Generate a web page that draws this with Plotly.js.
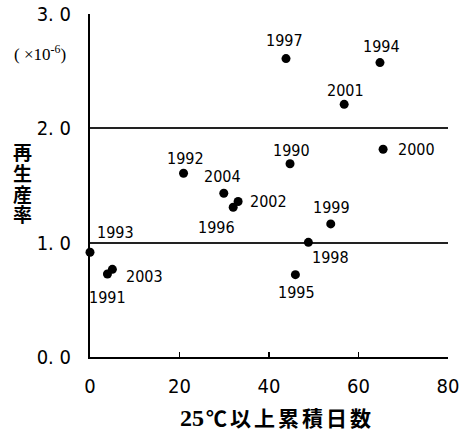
<!DOCTYPE html>
<html>
<head>
<meta charset="utf-8">
<script src="https://cdn.plot.ly/plotly-3.0.1.min.js"></script>
<style>html,body{margin:0;padding:0;background:#fff;}#chart{width:466px;height:433px;}</style>
</head>
<body>
<div id="chart"></div>
<script>
// Data
const years = ['1990','1991','1992','1993','1994','1995','1996','1997','1998','1999','2000','2001','2002','2003','2004'];
const days  = [44.7, 3.9, 20.9, 0.0, 64.8, 45.9, 32.0, 43.8, 48.8, 53.8, 65.5, 56.8, 33.1, 5.0, 29.9];
const rate  = [1.69, 0.726, 1.607, 0.916, 2.575, 0.72, 1.31, 2.61, 1.003, 1.164, 1.817, 2.21, 1.36, 0.767, 1.432];
const yTickVals = [0, 1, 2, 3];
const yTickText = ['0. 0', '1. 0', '2. 0', '3. 0'];
const xTickVals = [0, 20, 40, 60, 80];
const xTickText = ['0', '20', '40', '60', '80'];
const yTitleChars = ['再', '生', '産', '率'];
const xTitleNum = '25';
const xTitleRest = '℃以上累積日数';
const unitLabel = '( ×10<sup>-6</sup>)';

// label placement (pixel shifts, style only)
const labelShift = {
  '1990': [1, 13, 'center'], '1991': [0, -24, 'center'], '1992': [2, 15, 'center'],
  '1993': [25, 20, 'center'], '1994': [2, 16, 'center'], '1995': [1, -18, 'center'],
  '1996': [-17, -20, 'center'], '1997': [-2, 18, 'center'], '1998': [22, -15, 'center'],
  '1999': [1, 16.5, 'center'], '2000': [13, 0, 'left'], '2001': [1, 14, 'center'],
  '2002': [10, 0, 'left'], '2003': [12, -7, 'left'], '2004': [-1.5, 16.5, 'center']
};

const narrow = '"Liberation Sans Narrow", "DejaVu Sans Condensed", "DejaVu Sans", sans-serif';
const cjk = '"Noto Sans CJK JP", "Noto Sans CJK SC", sans-serif';

const trace = {
  x: days, y: rate, type: 'scatter', mode: 'markers',
  marker: {color: '#000', size: 9},
  cliponaxis: false, hoverinfo: 'skip', showlegend: false
};

const annotations = years.map((yr, i) => ({
  x: days[i], y: rate[i], xref: 'x', yref: 'y', text: yr, showarrow: false,
  xshift: labelShift[yr][0], yshift: labelShift[yr][1], xanchor: labelShift[yr][2], yanchor: 'middle',
  font: {family: narrow, size: 16, color: '#000', stretch: 'condensed'}
}));

// plot area: x 90..448, y 14..357
const px = v => (v - 90) / 358;
const py = v => (357 - v) / 343;

annotations.push({
  xref: 'paper', yref: 'paper', x: px(206), y: py(418), text: xTitleNum,
  showarrow: false, xanchor: 'right', yanchor: 'middle',
  font: {family: '"Liberation Serif", serif', size: 24, color: '#000', weight: 'bold'}
});
annotations.push({
  xref: 'paper', yref: 'paper', x: px(204), y: py(417), text: '<span style="letter-spacing:3px">' + xTitleRest + '</span>',
  showarrow: false, xanchor: 'left', yanchor: 'middle',
  font: {family: cjk, size: 21, color: '#000', weight: 'bold'}
});
const yCenters = [151, 172, 193, 214];
yTitleChars.forEach((c, i) => annotations.push({
  xref: 'paper', yref: 'paper', x: px(22.5), y: py(yCenters[i]), text: c,
  showarrow: false, xanchor: 'center', yanchor: 'middle',
  font: {family: cjk, size: 19, color: '#000', weight: 'bold'}
}));
annotations.push({
  xref: 'paper', yref: 'paper', x: px(40), y: py(53), text: unitLabel,
  showarrow: false, xanchor: 'center', yanchor: 'middle',
  font: {family: '"Liberation Serif", serif', size: 17, color: '#000'}
});

const layout = {
  width: 466, height: 433,
  margin: {l: 90, r: 18, t: 14, b: 76},
  paper_bgcolor: '#fff', plot_bgcolor: '#fff',
  xaxis: {
    range: [0, 80], tickvals: xTickVals, ticktext: xTickText,
    showgrid: false, zeroline: false, showline: true, linecolor: '#000', linewidth: 2,
    ticks: 'inside', ticklen: 5, tickcolor: '#000', tickwidth: 1.5,
    tickfont: {family: narrow, size: 20, color: '#000', stretch: 'condensed'}, ticklabelstandoff: 10
  },
  yaxis: {
    range: [0, 3], tickvals: yTickVals, ticktext: yTickText,
    showgrid: true, gridcolor: '#222', gridwidth: 2, zeroline: false,
    showline: true, linecolor: '#000', linewidth: 2, ticks: '',
    tickfont: {family: narrow, size: 20, color: '#000', stretch: 'condensed'}, ticklabelstandoff: 13
  },
  annotations: annotations
};

Plotly.newPlot('chart', [trace], layout, {staticPlot: true, displayModeBar: false});
</script>
</body>
</html>
